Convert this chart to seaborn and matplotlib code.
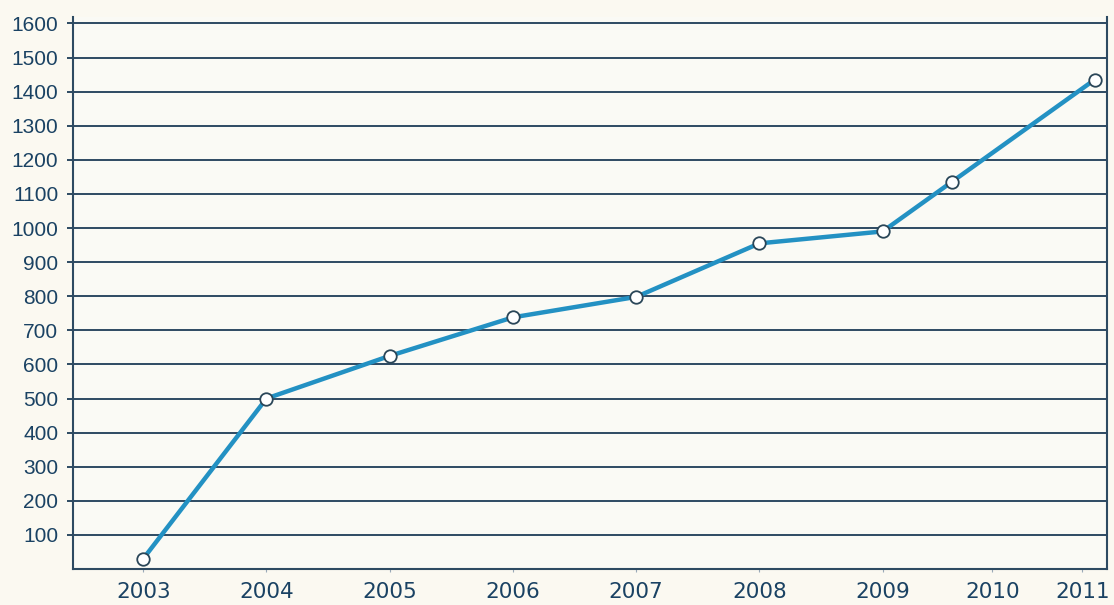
import matplotlib
matplotlib.use("Agg")
import matplotlib.pyplot as plt
import seaborn as sns
import pandas as pd

# Data
point_x = [2003, 2004, 2005, 2006, 2007, 2008, 2009, 2009.56, 2010.72]
values = [30, 500, 625, 738, 798, 955, 990, 1135, 1435]
tick_x = [2003, 2004, 2005, 2006, 2007, 2008, 2009, 2009.89, 2010.62]
tick_labels = ["2003", "2004", "2005", "2006", "2007", "2008", "2009", "2010", "2011"]
y_ticks = list(range(100, 1700, 100))

df = pd.DataFrame({"x": point_x, "y": values})

bg = "#fbf9f1"
grid_c = "#2d4a62"
text_c = "#1a4263"
line_c = "#2391c3"

sns.set_style("white")
plt.rcParams["font.family"] = ["Liberation Sans", "DejaVu Sans"]

fig = plt.figure(figsize=(11.14, 6.05), dpi=100, facecolor=bg)
ax = fig.add_axes([0.0655, 0.0595, 0.9282, 0.9125])
ax.set_facecolor("#fafaf5")

sns.lineplot(data=df, x="x", y="y", ax=ax, color=line_c, linewidth=3.2,
             marker="o", markersize=9, markerfacecolor="white",
             markeredgecolor="#2a4658", markeredgewidth=1.3, zorder=3)

ax.set_xlim(2002.43, 2010.82)
ax.set_ylim(0, 1619)

ax.set_yticks(y_ticks)
ax.set_yticklabels([str(v) for v in y_ticks])
ax.set_xticks(tick_x)
ax.set_xticklabels(tick_labels)

ax.yaxis.grid(True, color=grid_c, linewidth=1.4)
ax.xaxis.grid(False)
ax.set_axisbelow(True)

ax.tick_params(axis="y", direction="out", length=4.5, width=1.4, color=grid_c,
               labelsize=15, labelcolor=text_c, pad=6, left=True)
ax.tick_params(axis="x", direction="out", length=2.5, width=0.8, color="#9aaab8",
               labelsize=15.5, labelcolor=text_c, pad=7, bottom=True)
for lab in ax.get_xticklabels():
    lab.set_family(["DejaVu Sans"])

for side in ["left", "right", "bottom"]:
    ax.spines[side].set_visible(True)
    ax.spines[side].set_color(grid_c)
    ax.spines[side].set_linewidth(1.5)
ax.spines["top"].set_visible(False)

ax.set_xlabel("")
ax.set_ylabel("")

fig.savefig("out.png", dpi=100, facecolor=bg)
